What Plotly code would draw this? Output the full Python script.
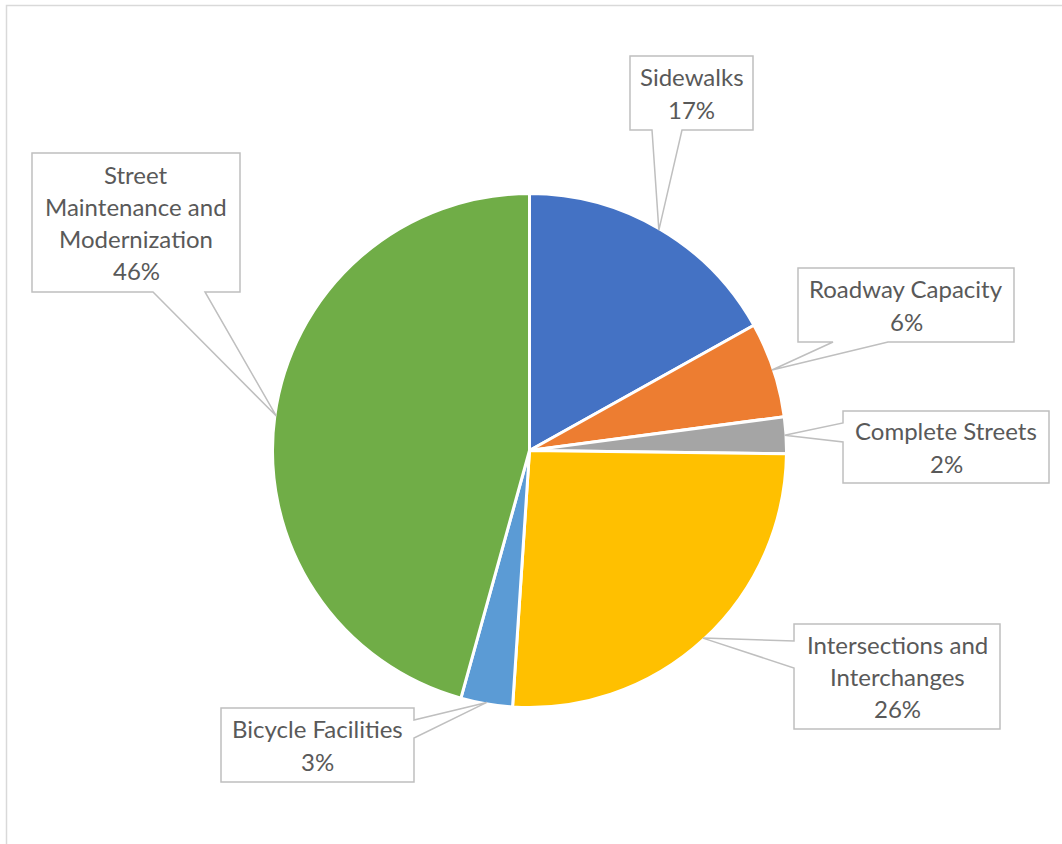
import math
import plotly.graph_objects as go

# ---- data ----
categories = ["Sidewalks", "Roadway Capacity", "Complete Streets",
              "Intersections and Interchanges", "Bicycle Facilities",
              "Street Maintenance and Modernization"]
shares = [16.9, 6.0, 2.3, 25.85, 3.25, 45.7]
label_lines = [["Sidewalks"], ["Roadway Capacity"], ["Complete Streets"],
               ["Intersections and", "Interchanges"], ["Bicycle Facilities"],
               ["Street", "Maintenance and", "Modernization"]]
colors = ["#4472C4", "#ED7D31", "#A5A5A5", "#FFC000", "#5B9BD5", "#70AD47"]

# ---- layout geometry (pixels) ----
W, H = 1062, 844
CX, CY, R = 529.5, 450.5, 257.0
R_TIP = 255.5

# callout boxes: (x0, y0, x1, y1, side, base_a, base_b)
boxes = [
    (630, 56, 753, 130, "bottom", 652, 682),
    (798, 268, 1014, 342, "bottom", 833, 888),
    (843, 411, 1049, 483, "left", 423, 442),
    (794, 624, 1000, 729, "left", 641, 668),
    (221, 708, 414, 782, "right", 720, 738),
    (32, 153, 240, 292, "bottom", 153, 205),
]

def px(x):
    return x / W

def py(y):
    return 1 - y / H

fig = go.Figure()
fig.add_trace(go.Pie(
    labels=categories, values=shares, sort=False, direction="clockwise",
    rotation=0, textinfo="none", hoverinfo="label+percent",
    marker=dict(colors=colors, line=dict(color="white", width=3)),
    domain=dict(x=[px(CX - R), px(CX + R)], y=[py(CY + R), py(CY - R)]),
    showlegend=False,
))

shapes = []
annotations = []
# frame
shapes.append(dict(type="rect", xref="paper", yref="paper",
                   x0=px(6.5), x1=px(W + 10), y0=py(5.5), y1=py(H + 10),
                   line=dict(color="#D9D9D9", width=1.5), fillcolor="rgba(0,0,0,0)",
                   layer="below"))

total = sum(shares)
cum = 0.0
line_gap = 32.3
for i, v in enumerate(shares):
    mid = (cum + v / 2) / total * 2 * math.pi
    cum += v
    tx = CX + R_TIP * math.sin(mid)
    ty = CY - R_TIP * math.cos(mid)
    x0, y0, x1, y1, side, a, b = boxes[i]
    if side == "bottom":
        pts = [(x0, y0), (x1, y0), (x1, y1), (b, y1), (tx, ty), (a, y1), (x0, y1)]
    elif side == "left":
        pts = [(x0, y0), (x1, y0), (x1, y1), (x0, y1), (x0, b), (tx, ty), (x0, a)]
    else:
        pts = [(x0, y0), (x1, y0), (x1, a), (tx, ty), (x1, b), (x1, y1), (x0, y1)]
    path = "M " + " L ".join(f"{px(x):.5f},{py(y):.5f}" for x, y in pts) + " Z"
    shapes.append(dict(type="path", xref="paper", yref="paper", path=path,
                       fillcolor="white", line=dict(color="#BFBFBF", width=1.5),
                       layer="above"))
    lines = label_lines[i] + [f"{round(v / total * 100)}%"]
    cyb = (y0 + y1) / 2
    n = len(lines)
    for k, t in enumerate(lines):
        yy = cyb + (k - (n - 1) / 2) * line_gap
        annotations.append(dict(x=px((x0 + x1) / 2), y=py(yy), xref="paper", yref="paper",
                                text=t, showarrow=False, xanchor="center", yanchor="middle",
                                font=dict(family="Lato", size=24, color="#595959")))

fig.update_layout(width=W, height=H, margin=dict(l=0, r=0, t=0, b=0),
                  paper_bgcolor="white", plot_bgcolor="white",
                  shapes=shapes, annotations=annotations)
fig.write_html("out.html")
